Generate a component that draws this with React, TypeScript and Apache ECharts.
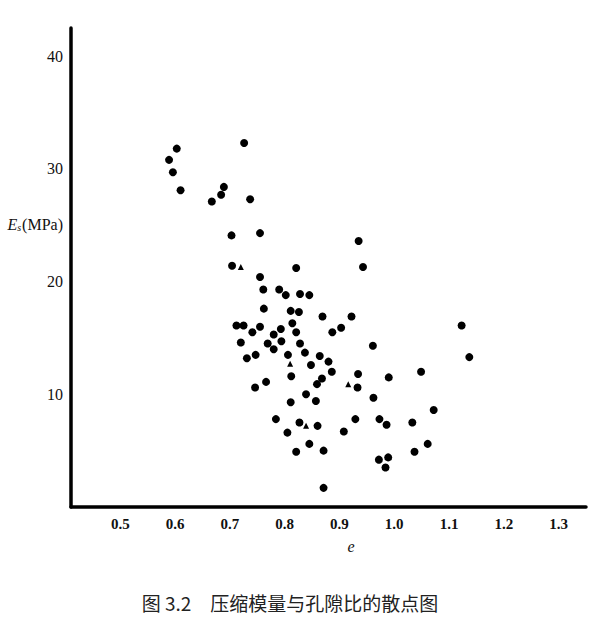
import React, { useEffect, useRef } from "react";
import * as echarts from "echarts";

// void ratio e and compression modulus Es (MPa)
const dotE = [
  0.603, 0.589, 0.596, 0.610, 0.726, 0.689, 0.684, 0.667, 0.737, 0.703,
  0.755, 0.704, 0.821, 0.755, 0.761, 0.790, 0.943, 0.935, 0.802, 0.828,
  0.845, 0.762, 0.811, 0.826, 0.869, 0.922, 0.712, 0.725, 0.741, 0.755,
  0.780, 0.793, 0.814, 0.821, 0.887, 0.903, 0.720, 0.769, 0.794, 0.828,
  0.780, 0.961, 0.731, 0.747, 0.806, 0.837, 0.864, 0.880, 0.848, 0.886,
  0.812, 0.868, 0.934, 0.990, 0.746, 0.766, 0.859, 0.933, 0.839, 0.962,
  0.811, 0.857, 0.784, 0.827, 0.860, 0.929, 0.973, 0.986, 0.805, 0.908,
  0.845, 0.821, 0.871, 0.972, 0.989, 0.984, 1.123, 1.137, 1.049, 1.072,
  1.033, 1.037, 1.061, 0.871,
];
const dotEs = [
  31.8, 30.8, 29.7, 28.1, 32.3, 28.4, 27.7, 27.1, 27.3, 24.1,
  24.3, 21.4, 21.2, 20.4, 19.3, 19.3, 21.3, 23.6, 18.8, 18.9,
  18.8, 17.6, 17.4, 17.3, 16.9, 16.9, 16.1, 16.1, 15.5, 16.0,
  15.3, 15.8, 16.3, 15.5, 15.5, 15.9, 14.6, 14.5, 14.7, 14.5,
  14.0, 14.3, 13.2, 13.5, 13.5, 13.7, 13.4, 12.9, 12.6, 12.0,
  11.6, 11.4, 11.8, 11.5, 10.6, 11.1, 10.9, 10.6, 10.0, 9.7,
  9.3, 9.4, 7.8, 7.5, 7.2, 7.8, 7.8, 7.3, 6.6, 6.7,
  5.6, 4.9, 5.0, 4.2, 4.4, 3.5, 16.1, 13.3, 12.0, 8.6,
  7.5, 4.9, 5.6, 1.7,
];
const triE = [0.720, 0.810, 0.916, 0.839];
const triEs = [21.3, 12.7, 10.9, 7.2];

const xTicks = [0.5, 0.6, 0.7, 0.8, 0.9, 1.0, 1.1, 1.2, 1.3];
const yTicks = [10, 20, 30, 40];
const caption = "图 3.2　压缩模量与孔隙比的散点图";

export default function App() {
  const ref = useRef<HTMLDivElement>(null);
  useEffect(() => {
    if (!ref.current) return;
    const chart = echarts.init(ref.current, null, { renderer: "svg" });
    const serif = "'Liberation Serif', 'DejaVu Serif', serif";
    chart.setOption({
      animation: false,
      backgroundColor: "#ffffff",
      grid: { left: 71, right: 14, top: 28, bottom: 110, containLabel: false },
      xAxis: {
        type: "value",
        min: 0.41,
        max: 1.35,
        axisLine: { show: true, lineStyle: { color: "#000", width: 3.5 } },
        axisTick: { show: false },
        splitLine: { show: false },
        axisLabel: {
          customValues: xTicks,
          formatter: (v: number) => v.toFixed(1),
          color: "#111",
          fontFamily: serif,
          fontWeight: "bold",
          fontSize: 15,
          margin: 9,
        },
      },
      yAxis: {
        type: "value",
        min: 0,
        max: 42.5,
        axisLine: { show: true, lineStyle: { color: "#000", width: 3.5 } },
        axisTick: { show: false },
        splitLine: { show: false },
        axisLabel: {
          customValues: yTicks,
          formatter: (v: number) => String(v),
          color: "#111",
          fontFamily: serif,
          fontSize: 16,
          margin: 8,
        },
      },
      series: [
        {
          type: "scatter",
          symbol: "circle",
          symbolSize: 8,
          itemStyle: { color: "#000", opacity: 1 },
          data: dotE.map((e, i) => [e, dotEs[i]]),
        },
        {
          type: "scatter",
          symbol: "triangle",
          symbolSize: 6,
          itemStyle: { color: "#000", opacity: 1 },
          data: triE.map((e, i) => [e, triEs[i]]),
        },
      ],
      graphic: [
        {
          type: "text",
          right: 537,
          top: 216,
          style: {
            text: "{e|E}{s|s}{u|(MPa)}",
            fill: "#111",
            rich: {
              e: { fontFamily: serif, fontStyle: "italic", fontSize: 16, fill: "#111" },
              s: { fontFamily: serif, fontStyle: "italic", fontSize: 10, fill: "#111", padding: [6, 1, 0, 0] },
              u: { fontFamily: serif, fontSize: 16, fill: "#111" },
            },
          },
        },
        {
          type: "text",
          x: 351,
          y: 546,
          style: {
            text: "e",
            fontFamily: serif,
            fontStyle: "italic",
            fontSize: 16,
            fill: "#111",
            align: "center",
            verticalAlign: "middle",
          },
        },
        {
          type: "text",
          x: 290,
          y: 602,
          style: {
            text: caption,
            fontFamily: "'Noto Sans CJK SC', sans-serif",
            fontSize: 19,
            fill: "#222",
            align: "center",
            verticalAlign: "middle",
          },
        },
      ],
    });
    return () => chart.dispose();
  }, []);
  return (
    <div
      ref={ref}
      style={{ position: "fixed", left: 0, top: 0, width: 600, height: 617, background: "#fff" }}
    />
  );
}
